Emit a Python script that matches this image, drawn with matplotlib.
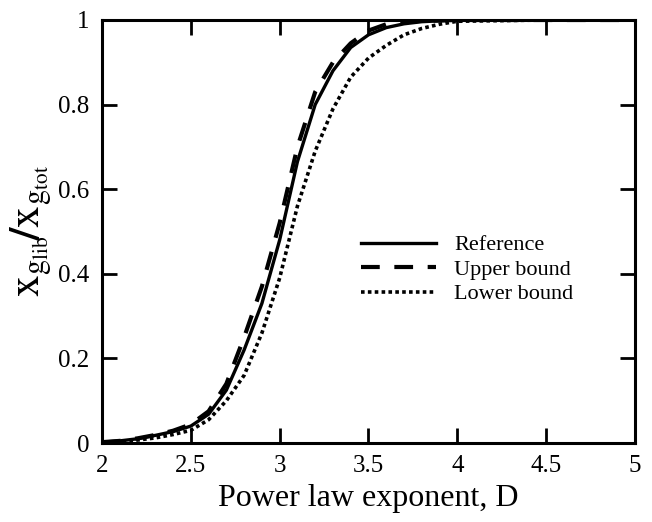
import matplotlib
matplotlib.use("Agg")
import matplotlib.pyplot as plt

# Power law exponent D and the liberated fraction for each bound
D = [2.0, 2.1, 2.2, 2.3, 2.4, 2.5, 2.6, 2.7, 2.8, 2.9, 3.0, 3.1, 3.2,
     3.3, 3.4, 3.5, 3.6, 3.7, 3.8, 3.9, 4.0, 4.5, 5.0]
reference = [0.002, 0.005, 0.010, 0.018, 0.027, 0.040, 0.068, 0.125, 0.22,
             0.33, 0.48, 0.665, 0.80, 0.88, 0.935, 0.965, 0.982, 0.991,
             0.996, 0.998, 1.0, 1.0, 1.0]
upper_bound = [0.002, 0.005, 0.011, 0.019, 0.029, 0.044, 0.075, 0.14, 0.25,
               0.37, 0.52, 0.70, 0.83, 0.90, 0.945, 0.975, 0.99, 0.996,
               0.998, 0.999, 1.0, 1.0, 1.0]
lower_bound = [0.001, 0.003, 0.007, 0.012, 0.020, 0.030, 0.055, 0.10, 0.16,
               0.26, 0.39, 0.56, 0.69, 0.79, 0.865, 0.91, 0.94, 0.965,
               0.98, 0.99, 0.997, 1.0, 1.0]

x_ticks = [2, 2.5, 3, 3.5, 4, 4.5, 5]
x_tick_labels = ["2", "2.5", "3", "3.5", "4", "4.5", "5"]
y_ticks = [0, 0.2, 0.4, 0.6, 0.8, 1]
y_tick_labels = ["0", "0.2", "0.4", "0.6", "0.8", "1"]

plt.rcParams["font.family"] = ["Liberation Serif", "DejaVu Serif"]
plt.rcParams["mathtext.fontset"] = "stix"

fig = plt.figure(figsize=(6.52, 5.22), dpi=100)
ax = fig.add_axes([102 / 652, 1 - 443 / 522, 533 / 652, 423 / 522])

ax.plot(D, reference, color="black", lw=2.4, ls="-", label="Reference")
ax.plot(D, upper_bound, color="black", lw=3.0, ls=(0, (4.5, 3.5)),
        label="Upper bound")
ax.plot(D, lower_bound, color="black", lw=2.6, ls=(0, (1.0, 0.9)),
        label="Lower bound")

ax.set_xlim(2, 5)
ax.set_ylim(0, 1)
ax.set_xticks(x_ticks)
ax.set_xticklabels(x_tick_labels)
ax.set_yticks(y_ticks)
ax.set_yticklabels(y_tick_labels)

for s in ax.spines.values():
    s.set_linewidth(2.2)
ax.tick_params(direction="in", length=11, width=2.0, top=True, right=True,
               labelsize=18, pad=9)

ax.set_xlabel("Power law exponent, D", fontsize=23, labelpad=5)
ax.set_ylabel(r"$\mathrm{x}_{\mathrm{g}_{\mathrm{lib}}}\!\mathbf{/}\mathrm{x}_{\mathrm{g}_{\mathrm{tot}}}$",
              fontsize=31, labelpad=2)

leg = ax.legend(loc="center left", bbox_to_anchor=(0.448, 0.41), frameon=False,
                fontsize=16, handlelength=3.4, handletextpad=0.8,
                labelspacing=0.18)

fig.savefig("out.png", dpi=100, facecolor="white")
